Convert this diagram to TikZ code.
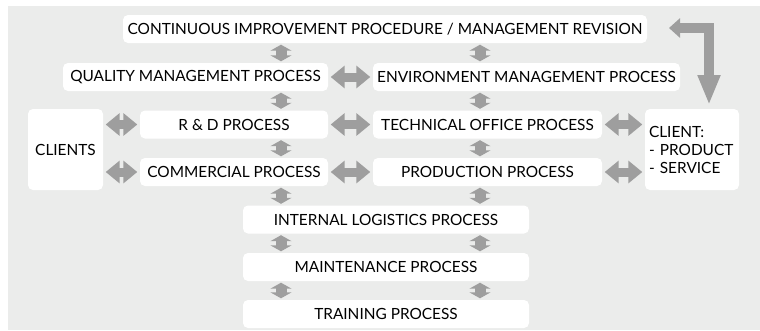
\documentclass[tikz,border=0pt]{standalone}
\usepackage{fontspec}
\setmainfont{Lato}
\usetikzlibrary{arrows.meta}
\definecolor{bggray}{RGB}{235,236,235}
\definecolor{arrgray}{RGB}{158,158,158}

\begin{document}
\begin{tikzpicture}[x=1pt,y=-1pt,line join=miter,
    procbox/.style={fill=white,rounded corners=5pt,minimum height=28pt,inner sep=0pt,
        font=\fontsize{15.4}{18}\selectfont},
    harr/.style={arrgray,line width=9pt,shorten <=2.5pt,shorten >=2.5pt,
        {Triangle[length=14pt,width=22pt]}-{Triangle[length=14pt,width=22pt]}},
    varr/.style={arrgray,line width=11pt,shorten <=1.5pt,shorten >=1.5pt,
        {Triangle[length=6pt,width=21pt]}-{Triangle[length=6pt,width=21pt]}}]
            \useasboundingbox (0,0) rectangle (760,330);
            \fill[bggray] (8,6) rectangle (760,330);
            \coordinate (colL) at (281,0);
            \coordinate (colR) at (480,0);
    
            \node[procbox,minimum width=524pt] (improve) at (385,29) {CONTINUOUS IMPROVEMENT PROCEDURE / MANAGEMENT REVISION};
            \node[procbox,minimum width=265pt] (quality) at (195.5,77) {QUALITY MANAGEMENT PROCESS};
            \node[procbox,minimum width=307pt] (environ) at (526.5,77) {ENVIRONMENT MANAGEMENT PROCESS};
            \node[procbox,minimum width=188pt] (rnd) at (234,124.5) {R \& D PROCESS};
            \node[procbox,minimum width=229pt] (techoff) at (487.5,124.5) {TECHNICAL OFFICE PROCESS};
            \node[procbox,minimum width=188pt] (commerc) at (234,172) {COMMERCIAL PROCESS};
            \node[procbox,minimum width=229pt] (product) at (487.5,172) {PRODUCTION PROCESS};
            \node[procbox,minimum width=75pt,minimum height=81pt] (clients) at (65.5,149.5) {CLIENTS};
            \node[procbox,minimum width=94pt,minimum height=81pt,text width=86pt,align=left] (client) at (692,149.5) {CLIENT:\\- PRODUCT\\- SERVICE};
            \node[procbox,minimum width=286pt] (logist) at (386,219.5) {INTERNAL LOGISTICS PROCESS};
            \node[procbox,minimum width=286pt] (mainten) at (386,267) {MAINTENANCE PROCESS};
            \node[procbox,minimum width=286pt] (training) at (386,314) {TRAINING PROCESS};
    
            % vertical links
            \draw[varr] (improve.south -| colL) -- (quality.north -| colL);
            \draw[varr] (improve.south -| colR) -- (environ.north -| colR);
            \draw[varr] (quality.south -| colL) -- (rnd.north -| colL);
            \draw[varr] (environ.south -| colR) -- (techoff.north -| colR);
            \draw[varr] (rnd.south -| colL) -- (commerc.north -| colL);
            \draw[varr] (techoff.south -| colR) -- (product.north -| colR);
            \draw[varr] (commerc.south -| colL) -- (logist.north -| colL);
            \draw[varr] (product.south -| colR) -- (logist.north -| colR);
            \draw[varr] (logist.south -| colL) -- (mainten.north -| colL);
            \draw[varr] (logist.south -| colR) -- (mainten.north -| colR);
            \draw[varr] (mainten.south -| colL) -- (training.north -| colL);
            \draw[varr] (mainten.south -| colR) -- (training.north -| colR);
    
            % horizontal links
            \draw[harr] (quality) -- (environ);
            \draw[harr] (rnd) -- (techoff);
            \draw[harr] (commerc) -- (product);
            \draw[harr] (rnd.west -| clients.east) -- (rnd.west);
            \draw[harr] (commerc.west -| clients.east) -- (commerc.west);
            \draw[harr] (techoff.east) -- (techoff.east -| client.west);
            \draw[harr] (product.east) -- (product.east -| client.west);
    
            % feedback loop
            \coordinate (fbstart) at (669,28);
            \coordinate (fbcorner) at (709,28);
            \coordinate (fbend) at (709,105);
            \draw[arrgray,line width=10pt,{Triangle[length=11pt,width=19pt]}-{Triangle[length=30pt,width=21pt]}]
                (fbstart) -- (fbcorner) -- (fbend);
        \end{tikzpicture}
\end{document}
